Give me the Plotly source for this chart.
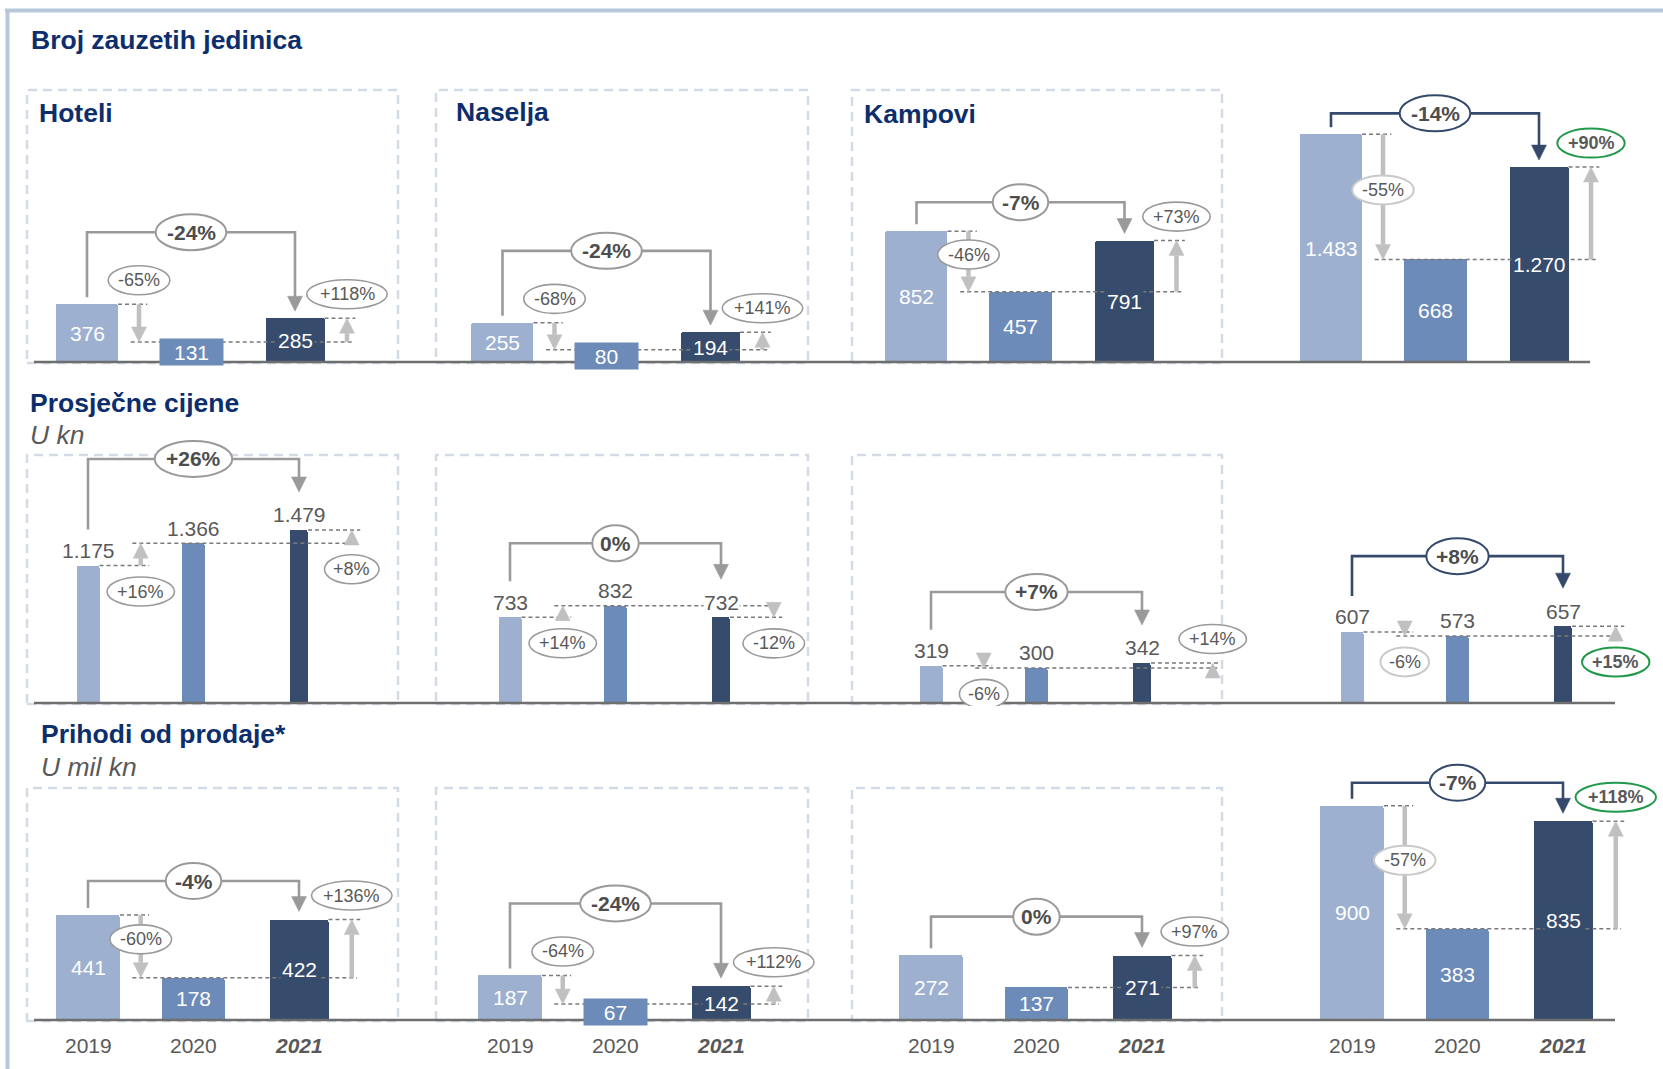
import plotly.graph_objects as go

# ---------------- data ----------------
YEARS = ["2019", "2020", "2021"]
SEGMENTS = ["Hoteli", "Naselja", "Kampovi", ""]

units_hoteli = [376, 131, 285]
units_naselja = [255, 80, 194]
units_kampovi = [852, 457, 791]
units_total = [1483, 668, 1270]
units_chg_19_21 = ["-24%", "-24%", "-7%", "-14%"]
units_chg_19_20 = ["-65%", "-68%", "-46%", "-55%"]
units_chg_20_21 = ["+118%", "+141%", "+73%", "+90%"]

price_hoteli = [1175, 1366, 1479]
price_naselja = [733, 832, 732]
price_kampovi = [319, 300, 342]
price_total = [607, 573, 657]
price_chg_19_21 = ["+26%", "0%", "+7%", "+8%"]
price_chg_19_20 = ["+16%", "+14%", "-6%", "-6%"]
price_chg_20_21 = ["+8%", "-12%", "+14%", "+15%"]

rev_hoteli = [441, 178, 422]
rev_naselja = [187, 67, 142]
rev_kampovi = [272, 137, 271]
rev_total = [900, 383, 835]
rev_chg_19_21 = ["-4%", "-24%", "0%", "-7%"]
rev_chg_19_20 = ["-60%", "-64%", None, "-57%"]
rev_chg_20_21 = ["+136%", "+112%", "+97%", "+118%"]

SECTION_TITLES = ["Broj zauzetih jedinica", "Prosječne cijene", "Prihodi od prodaje*"]
SECTION_UNITS = ["", "U kn", "U mil kn"]

# ---------------- styles / layout ----------------
W, H = 1663, 1069
FONT = "Liberation Sans, Arial, Helvetica, sans-serif"
TITLE_BLUE = "#0D2E6C"
TXT = "#595959"
BR_TXT = "#4D4D4D"
BAR_COLORS = ["#9DB0CF", "#6D8BB8", "#374C6C"]
GRAY_BR = "#9A9A9A"
NAVY_BR = "#34496B"
ARROW_GRAY = "#C0C0C0"
DASH_GRAY = "#7A7A7A"
GREEN = "#22994A"
LIGHT_BORDER = "#C9C9C9"
BOX_COLOR = "#D3DBE7"
FRAME = "#B8C7DC"

ROWS = [
    dict(values=[units_hoteli, units_naselja, units_kampovi, units_total],
         total=units_chg_19_21, ch1=units_chg_19_20, ch2=units_chg_20_21,
         base=362, k=0.1535, c0=[87, 502.5, 916.5, 1331], s=104,
         bw=[62, 63, 59], top=82, bottom=366, labels="inside",
         br_off=[72, 72, 29, 21], gap0=7, gap2=7,
         pos1=["above", "above", "mid", "mid"], pos2=["above"] * 4,
         ax2=[2.5] * 4,
         box_y=[90, 363], line_x=[34, 1590]),
    dict(values=[price_hoteli, price_naselja, price_kampovi, price_total],
         total=price_chg_19_21, ch1=price_chg_19_20, ch2=price_chg_20_21,
         base=703, k=0.117, c0=[88, 510, 931, 1352], s=105.5,
         bw=[23, 23, 18], top=436, bottom=706, labels="above",
         br_off=[71, 74, 71, 70], gap0=36, gap2=38,
         pos1=["below"] * 4, pos2=["below", "below", "above", "below"],
         ax2=[2.5, 2.5, 2.67, 2.5],
         box_y=[455, 704], line_x=[34, 1615]),
    dict(values=[rev_hoteli, rev_naselja, rev_kampovi, rev_total],
         total=rev_chg_19_21, ch1=rev_chg_19_20, ch2=rev_chg_20_21,
         base=1020, k=0.238, c0=[88, 510, 931, 1352], s=105.5,
         bw=[64, 63, 59], top=758, bottom=1024, labels="inside",
         br_off=[34, 72, 38.6, 23], gap0=7, gap2=8,
         pos1=["mid", "above", None, "mid"], pos2=["above"] * 4,
         ax2=[2.5] * 4,
         box_y=[788, 1021], line_x=[34, 1615]),
]
BOX_X = [[27, 398], [436, 808], [852, 1222]]
TITLE_POS = [(29, 40, None), (28, 402.5, 435), (38.5, 734, 767)]
PANEL_TITLE_POS = [(36.5, 113.5), (454, 112), (862, 114)]
YEAR_Y = 1045
TITLE_SIZE = 26.5

CW = {"0": 556, "1": 556, "2": 556, "3": 556, "4": 556, "5": 556, "6": 556,
      "7": 556, "8": 556, "9": 556, "%": 889, "-": 333, "+": 584, ".": 278}


def text_w(t, size):
    return sum(CW.get(c, 556) for c in t) * size / 1000.0


def fmt(v):
    return f"{v:,}".replace(",", ".")


def py(p):
    return 1 - p / H


fig = go.Figure()
lines_layer, ell_layer, annos = [], [], []
axes = {}


def add_line(xr, yr, x0, y0, x1, y1, color, width, dash=None):
    lines_layer.append(dict(type="line", xref=xr, yref=yr, x0=x0, y0=y0, x1=x1, y1=y1,
                            line=dict(color=color, width=width, dash=dash), layer="above"))


def add_tri(xr, yr, x, y, down, color, w=15, h=15):
    hh = h if down else -h
    lines_layer.append(dict(type="path", xref=xr, yref=yr, xsizemode="pixel", ysizemode="pixel",
                            xanchor=x, yanchor=y, path=f"M{-w/2},{hh} L{w/2},{hh} L0,0 Z",
                            fillcolor=color, line=dict(color=color, width=0.5), layer="above"))


def add_ellipse(xr, yr, x, y, w, h, border, bwid):
    ell_layer.append(dict(type="circle", xref=xr, yref=yr, xsizemode="pixel", ysizemode="pixel",
                          xanchor=x, yanchor=y, x0=-w / 2, x1=w / 2, y0=-h / 2, y1=h / 2,
                          fillcolor="white", line=dict(color=border, width=bwid), layer="above"))


def add_text(xr, yr, x, y, t, size, color, **kw):
    d = dict(xref=xr, yref=yr, x=x, y=y, text=t, showarrow=False,
             font=dict(family=FONT, size=size, color=color), xanchor="center", yanchor="middle")
    d.update(kw)
    annos.append(d)


n = 0
for r, row in enumerate(ROWS):
    k, s, base = row["k"], row["s"], row["base"]
    for p in range(4):
        n += 1
        xr = "x" if n == 1 else f"x{n}"
        yr = "y" if n == 1 else f"y{n}"
        c0 = row["c0"][p]
        xlo = -0.8
        xhi = min(3.05, (W - 1 - c0) / s)
        axes["xaxis" if n == 1 else f"xaxis{n}"] = dict(
            domain=[(c0 + xlo * s) / W, (c0 + xhi * s) / W], range=[xlo, xhi],
            visible=False, fixedrange=True)
        axes["yaxis" if n == 1 else f"yaxis{n}"] = dict(
            domain=[py(row["bottom"]), py(row["top"])],
            range=[-(row["bottom"] - base) / k, (base - row["top"]) / k],
            visible=False, fixedrange=True)

        vals = row["values"][p]
        bw = [w / s for w in row["bw"]]
        fig.add_trace(go.Bar(x=[0, 1, 2], y=vals, width=bw, xaxis=xr, yaxis=yr,
                             marker=dict(color=BAR_COLORS, line=dict(width=0), cornerradius=2),
                             hoverinfo="skip", showlegend=False))

        # value labels
        for i, v in enumerate(vals):
            if row["labels"] == "inside":
                extra = {}
                if v * k < 26:
                    extra = dict(width=row["bw"][i] - 2, height=24)
                add_text(xr, yr, i, v / 2, fmt(v), 21, "white", bgcolor=BAR_COLORS[i],
                         borderpad=1, **extra)
            else:
                add_text(xr, yr, i, v, fmt(v), 21, TXT, yshift=15, bgcolor="white", borderpad=0)

        v0, v1, v2 = vals
        ax2 = row["ax2"][p]
        dash = "4px,3px"
        # dashed guide lines
        if row["ch1"][p] is not None:
            add_line(xr, yr, bw[0] / 2, v0, 0.58, v0, DASH_GRAY, 1.5, dash)
            add_line(xr, yr, 0.42, v1, ax2 + 0.05, v1, DASH_GRAY, 1.5, dash)
        else:
            add_line(xr, yr, 1 + bw[1] / 2, v1, ax2 + 0.05, v1, DASH_GRAY, 1.5, dash)
        add_line(xr, yr, 2 + bw[2] / 2, v2, ax2 + 0.08, v2, DASH_GRAY, 1.5, dash)

        # change arrows + small labels
        total_panel = (p == 3)
        for (lab, pos, xa, va, vb, which) in [
                (row["ch1"][p], row["pos1"][p], 0.5, v0, v1, 1),
                (row["ch2"][p], row["pos2"][p], ax2, v1, v2, 2)]:
            if lab is None:
                continue
            down = vb < va
            if abs(vb - va) * k > 15:
                end = vb + (15 / k if down else -15 / k)
                add_line(xr, yr, xa, va, xa, end, ARROW_GRAY, 4.5)
            add_tri(xr, yr, xa, vb, down, ARROW_GRAY)
            if pos == "above":
                ly = max(va, vb) + 24 / k
            elif pos == "below":
                ly = min(va, vb) - 26 / k
            else:
                ly = (va + vb) / 2 + 7 / k
            bold = False
            if total_panel and which == 2:
                border, bwid, bold = GREEN, 2, True
            elif total_panel:
                border, bwid = LIGHT_BORDER, 2
            else:
                border, bwid = GRAY_BR, 1.6
            ew = 1.3 * text_w(lab, 18) + 7
            add_ellipse(xr, yr, xa, ly, ew, 29, border, bwid)
            add_text(xr, yr, xa, ly, f"<b>{lab}</b>" if bold else lab, 18, TXT)

        # bracket 2019 -> 2021
        bcol = NAVY_BR if total_panel else GRAY_BR
        yb = max(v0, v2) + row["br_off"][p] / k
        ya_ = v0 + row["gap0"] / k
        tip = v2 + row["gap2"] / k
        lines_layer.append(dict(type="path", xref=xr, yref=yr,
                                path=f"M0,{ya_} L0,{yb} L2,{yb} L2,{tip + 13 / k}",
                                line=dict(color=bcol, width=2.6), layer="above"))
        add_tri(xr, yr, 2, tip, True, bcol, w=15, h=15)
        lab = row["total"][p]
        ew = 1.3 * text_w(lab, 21) + 7
        add_ellipse(xr, yr, 1, yb, ew, 36, bcol, 2)
        add_text(xr, yr, 1, yb, f"<b>{lab}</b>", 21, BR_TXT)

        # year labels under bottom row
        if r == 2:
            for i, yv in enumerate(YEARS):
                t = f"<b><i>{yv}</i></b>" if i == 2 else yv
                add_text(xr, "paper", i, py(YEAR_Y), t, 21, TXT)

    # baseline
    lines_layer.append(dict(type="line", xref="paper", yref="paper",
                            x0=row["line_x"][0] / W, x1=row["line_x"][1] / W,
                            y0=py(base), y1=py(base), line=dict(color="#6E6E6E", width=2.5),
                            layer="above"))

# dashed panel boxes
box_shapes = []
for row in ROWS:
    for bx in BOX_X:
        box_shapes.append(dict(type="rect", xref="paper", yref="paper",
                               x0=bx[0] / W, x1=bx[1] / W,
                               y0=py(row["box_y"][1]), y1=py(row["box_y"][0]),
                               line=dict(color=BOX_COLOR, width=2.5, dash="9px,6px"),
                               fillcolor="rgba(0,0,0,0)", layer="below"))

# outer frame
frame = [
    dict(type="line", xref="paper", yref="paper", x0=5 / W, x1=1, y0=py(10.5), y1=py(10.5),
         line=dict(color=FRAME, width=4), layer="below"),
    dict(type="line", xref="paper", yref="paper", x0=7.5 / W, x1=7.5 / W, y0=py(10), y1=0,
         line=dict(color=FRAME, width=4), layer="below"),
]

# section titles
for i, (tx, ty, uy) in enumerate(TITLE_POS):
    add_text("paper", "paper", tx / W, py(ty), f"<b>{SECTION_TITLES[i]}</b>", TITLE_SIZE,
             TITLE_BLUE, xanchor="left")
    if uy is not None:
        add_text("paper", "paper", tx / W, py(uy), f"<i>{SECTION_UNITS[i]}</i>", TITLE_SIZE,
                 TXT, xanchor="left")
for i, (tx, ty) in enumerate(PANEL_TITLE_POS):
    add_text("paper", "paper", tx / W, py(ty), f"<b>{SEGMENTS[i]}</b>", TITLE_SIZE, TITLE_BLUE,
             xanchor="left")

fig.update_layout(
    width=W, height=H, margin=dict(l=0, r=0, t=0, b=0),
    paper_bgcolor="white", plot_bgcolor="rgba(0,0,0,0)",
    font=dict(family=FONT, color=TXT),
    shapes=box_shapes + frame + lines_layer + ell_layer,
    annotations=annos, bargap=0, showlegend=False,
    **axes,
)

fig.write_html("out.html", config={"displayModeBar": False},
               post_script="document.body.style.margin='0';document.body.style.overflow='hidden';")
